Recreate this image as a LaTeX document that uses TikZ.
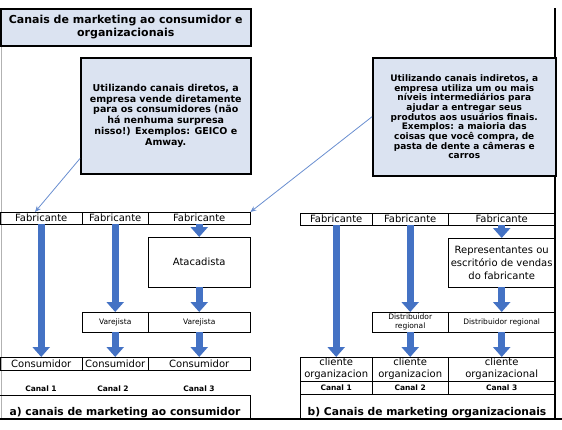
\documentclass[tikz,border=0pt]{standalone}
\usepackage{fontspec}
\setmainfont{DejaVu Sans}
\usetikzlibrary{arrows.meta,calc}
\definecolor{boxfill}{RGB}{219,227,241}
\definecolor{flowblue}{RGB}{68,114,196}
\definecolor{noteblue}{RGB}{105,142,208}

\begin{document}
\begin{tikzpicture}[x=1pt, y=-1pt,
    cell/.style={draw, inner sep=0pt, anchor=north west, align=center, font=\fontsize{10}{12}\selectfont},
    smallcell/.style={cell, font=\fontsize{7.5}{9}\selectfont},
    note/.style={draw, line width=1.5pt, fill=boxfill, anchor=north west, inner sep=1pt, align=center},
    flow/.style={flowblue, line width=7pt, -{Triangle[width=17pt,length=10pt]}},
    pointer/.style={noteblue, line width=0.8pt, -{Stealth[length=6pt,width=5pt]}},
    canal/.style={font=\bfseries\fontsize{7.5}{9}\selectfont},
    caption/.style={anchor=south, inner sep=1pt, font=\bfseries\fontsize{10.7}{12}\selectfont}]
			\useasboundingbox (0,0) rectangle (562,429);

			% Frame
			\draw[gray!60, line width=0.8pt] (1,45) -- (1,419);
			\draw[line width=2pt] (555,8) -- (555,419);

			% Title and notes
			\node[note, minimum width=250pt, minimum height=37pt, font=\bfseries\fontsize{11}{13}\selectfont] (title) at (0,8) {Canais de marketing ao consumidor e\\organizacionais};
			\node[note, minimum width=170pt, minimum height=116pt, font=\bfseries\fontsize{9.5}{10.7}\selectfont] (direct) at (80,57) {Utilizando canais diretos, a\\empresa vende diretamente\\para os consumidores (não\\há nenhuma surpresa\\nisso!) Exemplos: GEICO e\\Amway.};
			\node[note, minimum width=183pt, minimum height=118pt, font=\bfseries\fontsize{9}{9.7}\selectfont] (indirect) at (372,57) {Utilizando canais indiretos, a\\empresa utiliza um ou mais\\níveis intermediários para\\ajudar a entregar seus\\produtos aos usuários finais.\\Exemplos: a maioria das\\coisas que você compra, de\\pasta de dente a câmeras e\\carros};

			% a) Consumer channels
			\node[cell, minimum width=82pt, minimum height=12pt] (fab1) at (0,212) {Fabricante};
			\node[cell, minimum width=66pt, minimum height=12pt] (fab2) at (82,212) {Fabricante};
			\node[cell, minimum width=102pt, minimum height=12pt] (fab3) at (148,212) {Fabricante};
			\node[cell, minimum width=102pt, minimum height=50pt] (ata) at (148,237) {Atacadista};
			\node[smallcell, minimum width=66pt, minimum height=20pt] (var2) at (82,312) {Varejista};
			\node[smallcell, minimum width=102pt, minimum height=20pt] (var3) at (148,312) {Varejista};
			\node[cell, minimum width=82pt, minimum height=13pt] (cons1) at (0,357) {Consumidor};
			\node[cell, minimum width=66pt, minimum height=13pt] (cons2) at (82,357) {Consumidor};
			\node[cell, minimum width=102pt, minimum height=13pt] (cons3) at (148,357) {Consumidor};
			\node[canal] (ca1) at (41,389) {Canal 1};
			\node[canal] (ca2) at (113,389) {Canal 2};
			\node[canal] (ca3) at (199,389) {Canal 3};
			\draw[line width=1pt] (0,395) -- (250,395) -- (250,419);
			\node[caption] (capa) at (125,419) {a) canais de marketing ao consumidor};

			% b) Business channels
			\node[cell, minimum width=72pt, minimum height=12pt] (rfab1) at (300,213) {Fabricante};
			\node[cell, minimum width=76pt, minimum height=12pt] (rfab2) at (372,213) {Fabricante};
			\node[cell, minimum width=107pt, minimum height=12pt] (rfab3) at (448,213) {Fabricante};
			\node[cell, minimum width=107pt, minimum height=49pt, font=\fontsize{10}{13}\selectfont] (rep) at (448,238) {Representantes ou\\escritório de vendas\\do fabricante};
			\node[smallcell, minimum width=76pt, minimum height=20pt] (dist2) at (372,312) {Distribuidor\\regional};
			\node[smallcell, minimum width=107pt, minimum height=20pt] (dist3) at (448,312) {Distribuidor regional};
			\node[cell, minimum width=72pt, minimum height=24pt] (cli1) at (300,357) {cliente\\organizacion};
			\node[cell, minimum width=76pt, minimum height=24pt] (cli2) at (372,357) {cliente\\organizacion};
			\node[cell, minimum width=107pt, minimum height=24pt] (cli3) at (448,357) {cliente\\organizacional};
			\node[cell, canal, minimum width=72pt, minimum height=13pt] (rca1) at (300,381) {Canal 1};
			\node[cell, canal, minimum width=76pt, minimum height=13pt] (rca2) at (372,381) {Canal 2};
			\node[cell, canal, minimum width=107pt, minimum height=13pt] (rca3) at (448,381) {Canal 3};
			\draw[line width=1pt] (300,419) -- (300,394) -- (555,394);
			\node[caption] (capb) at (427,419) {b) Canais de marketing organizacionais};

			% Bottom rule
			\draw[line width=2pt] (0,419) -- (562,419);

			% Flows
			\draw[flow] (fab1) -- (cons1);
			\draw[flow] (fab2) -- (var2);
			\draw[flow] (var2) -- (cons2);
			\draw[flow] (fab3) -- (ata);
			\draw[flow] (ata) -- (var3);
			\draw[flow] (var3) -- (cons3);
			\draw[flow] (rfab1) -- (cli1);
			\draw[flow] (rfab2) -- (dist2);
			\draw[flow] (dist2) -- (cli2);
			\draw[flow] (rfab3) -- (rep);
			\draw[flow] (rep) -- (dist3);
			\draw[flow] (dist3) -- (cli3);

			% Pointers
			\draw[pointer] ([yshift=16pt]direct.south west) -- ([xshift=35pt]fab1.north west);
			\draw[pointer] (indirect.west) -- (fab3.north east);
		\end{tikzpicture}
\end{document}
